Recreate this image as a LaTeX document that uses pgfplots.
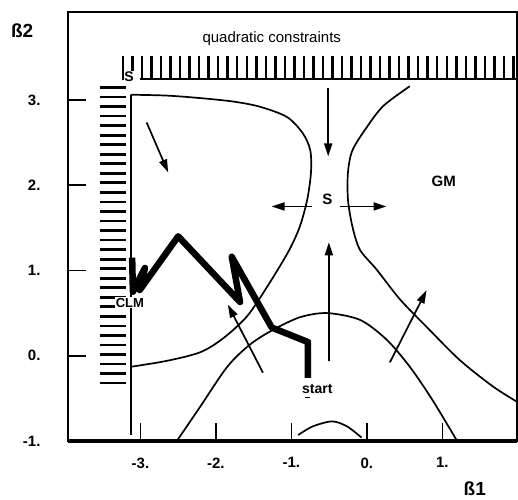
\documentclass[border=0pt]{standalone}
\usepackage{fontspec}
\setmainfont{Liberation Sans}
\usepackage{pgfplots}
\usepackage{pgfplotstable}
\pgfplotsset{compat=1.18}
\usetikzlibrary{arrows.meta}

% horizontal hatches (left constraint): start x, y
\pgfplotstableread{
x y
-3.536 3.145
-3.536 3.033
-3.536 2.921
-3.536 2.809
-3.536 2.698
-3.536 2.586
-3.536 2.474
-3.536 2.362
-3.536 2.250
-3.536 2.139
-3.536 2.027
-3.536 1.915
-3.536 1.803
-3.536 1.691
-3.536 1.580
-3.536 1.468
-3.536 1.356
-3.536 1.244
-3.536 1.132
-3.536 1.021
-3.536 0.909
-3.536 0.797
-3.536 0.685
-3.536 0.573
-3.536 0.462
-3.536 0.350
-3.536 0.238
-3.536 0.126
-3.536 0.014
-3.536 -0.098
-3.536 -0.209
-3.536 -0.321
}\hhatch

% vertical hatches (quadratic constraints): x, start y
\pgfplotstableread{
x y
-3.232 3.235
-3.106 3.235
-2.980 3.235
-2.853 3.235
-2.727 3.235
-2.601 3.235
-2.475 3.235
-2.349 3.235
-2.222 3.235
-2.096 3.235
-1.970 3.235
-1.844 3.235
-1.718 3.235
-1.591 3.235
-1.465 3.235
-1.339 3.235
-1.213 3.235
-1.087 3.235
-0.960 3.235
-0.834 3.235
-0.708 3.235
-0.582 3.235
-0.456 3.235
-0.329 3.235
-0.203 3.235
-0.077 3.235
0.049 3.235
0.175 3.235
0.302 3.235
0.428 3.235
0.554 3.235
0.680 3.235
0.806 3.235
0.933 3.235
1.059 3.235
1.185 3.235
1.311 3.235
1.437 3.235
1.564 3.235
1.690 3.235
1.816 3.235
1.942 3.235
}\vhatch

\begin{document}
\begin{tikzpicture}
\useasboundingbox (-68pt,-58pt) rectangle (450pt,441pt);
\begin{axis}[
  scale only axis, width=449pt, height=429pt,
  xmin=-3.96, xmax=1.99, ymin=-1, ymax=4.03,
  xtick={-3,-2,-1,0,1}, xticklabels={-3.,-2.,-1.,0.,1.},
  ytick={-1,0,1,2,3}, yticklabels={-1.,0.,1.,2.,3.},
  tick pos=left, tick align=inside, major tick length=18pt,
  tick style={line width=1.6pt, black},
  axis line style={line width=1.8pt},
  ticklabel style={font=\fontsize{15}{17}\selectfont\bfseries},
  xticklabel style={yshift=-13pt},
  yticklabel style={xshift=-24pt},
  clip=false,
  no markers,
  every axis plot/.append style={black, line width=1.7pt},
]
% bottom axis thicker
\addplot[line width=3.8pt] coordinates {(-3.96,-1) (1.99,-1)};

% hatches
\addplot[line width=2.7pt, quiver={u=0.344, v=0}] table {\hhatch};
\addplot[line width=2.5pt, quiver={u=0, v=0.28}] table {\vhatch};
% constraint lines
\addplot[line width=2pt] coordinates {(-3.13,-0.93) (-3.13,3.06)};
\addplot[line width=2pt] coordinates {(-3.006,3.24) (1.99,3.24)};

% upper-left curve
\addplot[smooth] coordinates {
(-3.13,3.06) (-2.65,3.05) (-2.20,3.02) (-1.77,2.98) (-1.42,2.92) (-1.06,2.80)
(-0.85,2.61) (-0.75,2.41) (-0.74,2.15) (-0.79,1.83) (-0.89,1.51) (-1.04,1.22)
(-1.32,0.81) (-1.59,0.46) (-1.91,0.20) (-2.21,0.04) (-2.65,-0.06) (-3.13,-0.13)};
% right curve
\addplot[smooth] coordinates {
(0.57,3.16) (0.22,2.93) (0.00,2.68) (-0.19,2.41) (-0.25,2.15) (-0.25,1.83)
(-0.19,1.51) (-0.09,1.24) (0.13,1.01) (0.44,0.66) (0.79,0.34) (1.23,-0.05)
(1.67,-0.36) (1.99,-0.54)};
% lower arc
\addplot[smooth] coordinates {
(-2.51,-0.99) (-2.21,-0.60) (-1.85,-0.13) (-1.55,0.13) (-1.25,0.30) (-0.89,0.45)
(-0.53,0.50) (-0.09,0.42) (0.26,0.19) (0.57,-0.13) (0.87,-0.52) (1.19,-0.99)};
% small bottom arc
\addplot[smooth] coordinates {
(-0.91,-0.93) (-0.72,-0.83) (-0.46,-0.77) (-0.26,-0.83) (-0.07,-0.96)};

% arrows
\pgfplotsset{arr/.style={line width=1.7pt, -{Triangle[length=13pt,width=8pt]}}}
\addplot[arr] coordinates {(-2.918,2.735) (-2.632,2.149)};
\addplot[arr] coordinates {(-0.512,3.138) (-0.512,2.337)};
\addplot[arr] coordinates {(-0.732,1.75) (-1.262,1.75)};
\addplot[arr] coordinates {(-0.358,1.75) (0.261,1.75)};
\addplot[arr] coordinates {(-0.503,-0.067) (-0.503,1.33)};
\addplot[arr] coordinates {(0.305,-0.078) (0.791,0.766)};
\addplot[arr] coordinates {(-1.377,-0.199) (-1.841,0.598)};

% thick path
\addplot[line width=6.5pt, line join=round] coordinates {
(-0.78,-0.26) (-0.78,0.16) (-1.26,0.33) (-1.79,1.16) (-1.68,0.63)
(-2.50,1.40) (-3.01,0.77) (-2.94,1.03) (-3.10,0.75) (-3.11,1.15)};
% dash under start
\addplot[line width=1.7pt] coordinates {(-0.82,-0.49) (-0.755,-0.49)};

% labels
\node[font=\fontsize{15}{17}\selectfont] at (axis cs:-1.26,3.72) {quadratic constraints};
\node[font=\fontsize{14}{16}\selectfont\bfseries, fill=white, inner sep=0.5pt] at (axis cs:-3.15,3.27) {S};
\node[font=\fontsize{15}{17}\selectfont\bfseries] at (axis cs:-0.523,1.83) {S};
\node[font=\fontsize{15}{17}\selectfont\bfseries] at (axis cs:1.02,2.04) {GM};
\node[font=\fontsize{13}{15}\selectfont\bfseries, fill=white, inner sep=1pt] at (axis cs:-3.14,0.62) {CLM};
\node[font=\fontsize{14}{16}\selectfont\bfseries] at (axis cs:-0.656,-0.387) {start};
\node[font=\fontsize{19}{21}\selectfont\bfseries] at (rel axis cs:-0.102,0.956) {ß2};
\node[font=\fontsize{19}{21}\selectfont\bfseries] at (rel axis cs:0.906,-0.112) {ß1};
\end{axis}
\end{tikzpicture}
\end{document}
